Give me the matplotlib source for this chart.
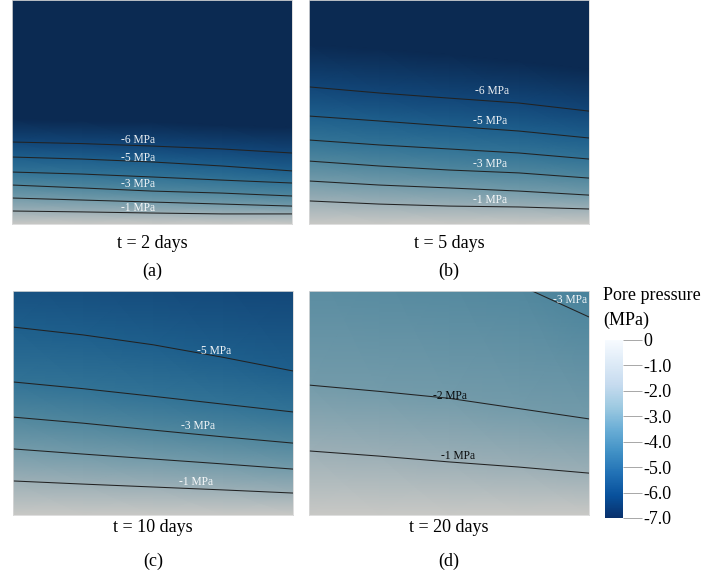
import matplotlib.pyplot as plt
import numpy as np
from matplotlib.colors import LinearSegmentedColormap, Normalize
from matplotlib.cm import ScalarMappable

plt.rcParams['font.family'] = ['Liberation Serif', 'DejaVu Serif']

# horizontal stations across each section (fraction of width)
x_cols = [0.0, 0.25, 0.5, 0.75, 1.0]

# pressure rows: value (MPa) and depth of that value at each station (% of height)
levels_a = [-7, -7, -6, -5, -4, -3, -2, -1, 0]
depths_a = [[0, 0, 0, 0, 0],
            [53, 54, 54.5, 56, 57],
            [63.4, 64.1, 65.2, 66.5, 68.3],
            [70.1, 71.0, 72.3, 74.1, 76.3],
            [76.8, 77.7, 79.0, 80.4, 81.7],
            [82.6, 83.9, 85.3, 86.2, 87.5],
            [88.4, 89.3, 90.2, 91.1, 92.0],
            [94.2, 94.6, 95.1, 95.5, 95.5],
            [100, 100, 100, 100, 100]]

levels_b = [-7, -7, -6, -5, -4, -3, -2, -1, 0]
depths_b = [[0, 0, 0, 0, 0],
            [20, 22, 24.5, 27.5, 31],
            [38.8, 41.5, 43.8, 46.0, 49.6],
            [51.8, 54.0, 56.3, 58.5, 61.6],
            [62.5, 64.7, 66.5, 68.3, 71.0],
            [71.9, 74.1, 75.9, 77.2, 79.5],
            [80.8, 82.6, 83.9, 85.3, 87.1],
            [89.7, 91.1, 92.0, 92.4, 93.3],
            [100, 100, 100, 100, 100]]

levels_c = [-6, -5, -4, -3, -2, -1, 0]
depths_c = [[-15.6, -12.5, -8.9, -5.4, -1.8],
            [16.1, 19.6, 24.0, 29.6, 35.7],
            [40.6, 43.6, 47.0, 50.5, 54.0],
            [56.3, 59.0, 62.1, 65.1, 67.9],
            [70.5, 72.8, 75.0, 77.2, 79.5],
            [84.8, 86.2, 87.5, 88.8, 90.2],
            [100, 100, 100, 100, 100]]

levels_d = [-4, -3, -2, -1, 0]
depths_d = [[-89, -80, -71, -58, -40],
            [-20, -14.3, -8.9, -2.7, 11.6],
            [42.0, 44.8, 47.9, 52.5, 57.1],
            [71.4, 73.7, 76.3, 78.6, 81.3],
            [100, 100, 100, 100, 100]]

# contour labels: text, x, depth, colour
labels_a = [('-6 MPa', 0.45, 62.5, 'w'), ('-5 MPa', 0.45, 70.5, 'w'),
            ('-3 MPa', 0.45, 82.1, 'w'), ('-1 MPa', 0.45, 92.9, 'w')]
labels_b = [('-6 MPa', 0.654, 40.6, 'w'), ('-5 MPa', 0.646, 54.0, 'w'),
            ('-3 MPa', 0.646, 73.2, 'w'), ('-1 MPa', 0.646, 89.3, 'w')]
labels_c = [('-5 MPa', 0.72, 26.8, 'w'), ('-3 MPa', 0.66, 60.3, 'w'),
            ('-1 MPa', 0.654, 85.3, 'w')]
labels_d = [('-3 MPa', 0.93, 4.0, 'w'), ('-2 MPa', 0.504, 46.9, 'k'),
            ('-1 MPa', 0.532, 73.7, 'k')]

times = ['t = 2 days', 't = 5 days', 't = 10 days', 't = 20 days']
tags = ['(a)', '(b)', '(c)', '(d)']
contour_levels = [-6, -5, -4, -3, -2, -1]

cbar_ticks = [0, -1, -2, -3, -4, -5, -6, -7]
cbar_ticklabels = ['0', '-1.0', '-2.0', '-3.0', '-4.0', '-5.0', '-6.0', '-7.0']

# shaded field colours at -7, -6, ..., 0 MPa
field_cmap = LinearSegmentedColormap.from_list('field', [
    '#0b2a52', '#124678', '#1e5f8c', '#327396',
    '#50879e', '#739baa', '#9bafb6', '#c8c8c5'])
norm = Normalize(vmin=-7, vmax=0)

W, H = 717, 580
fig = plt.figure(figsize=(W / 100, H / 100), dpi=100)

# panel boxes in pixels: left, top, width, height
boxes = [(12, 0, 280, 224), (309, 0, 280, 224),
         (13, 291, 280, 224), (309, 291, 280, 224)]
panels = [(levels_a, depths_a, labels_a), (levels_b, depths_b, labels_b),
          (levels_c, depths_c, labels_c), (levels_d, depths_d, labels_d)]
caption_y = [(243, 271), (243, 271), (528, 561), (528, 561)]

for i, ((lv, dp, lab), box) in enumerate(zip(panels, boxes)):
    l, t, w, h = box
    ax = fig.add_axes([l / W, 1 - (t + h) / H, w / W, h / H])
    dp = np.array(dp, dtype=float)
    X = np.tile(x_cols, (len(lv), 1))
    C = np.repeat(np.array(lv, dtype=float)[:, None], len(x_cols), axis=1)
    ax.pcolormesh(X, dp, C, shading='gouraud', cmap=field_cmap, norm=norm)
    for val, row in zip(lv, dp):
        if val in contour_levels:
            ax.plot(x_cols, row, color='#222222', lw=0.75)
    for txt, lx, ly, col in lab:
        ha = 'right' if lx > 0.9 else 'center'
        ax.text(0.995 if ha == 'right' else lx, ly, txt, color=col, fontsize=8.3,
                ha=ha, va='center', alpha=0.92)
    ax.set_xlim(0, 1)
    ax.set_ylim(100, 0)
    ax.set_xticks([])
    ax.set_yticks([])
    for s in ax.spines.values():
        s.set_color('#d8d8d8')
        s.set_linewidth(0.6)
    cx = (l + w / 2) / W
    fig.text(cx, 1 - caption_y[i][0] / H, times[i], ha='center', va='center', fontsize=13)
    fig.text(cx, 1 - caption_y[i][1] / H, tags[i], ha='center', va='center', fontsize=13)

# colour bar
cax = fig.add_axes([605 / W, 1 - 518 / H, 18 / W, 178 / H])
sm = ScalarMappable(norm=norm, cmap='Blues_r')
cb = fig.colorbar(sm, cax=cax, ticks=cbar_ticks)
cb.set_ticklabels(cbar_ticklabels)
cb.outline.set_visible(False)
cax.tick_params(length=14, width=0.6, color='#999999', labelsize=13, pad=1)
fig.text(603 / W, 1 - 295 / H, 'Pore pressure', ha='left', va='center', fontsize=13)
fig.text(603 / W, 1 - 320 / H, '(MPa)', ha='left', va='center', fontsize=13)

fig.savefig('out.png', dpi=100)
